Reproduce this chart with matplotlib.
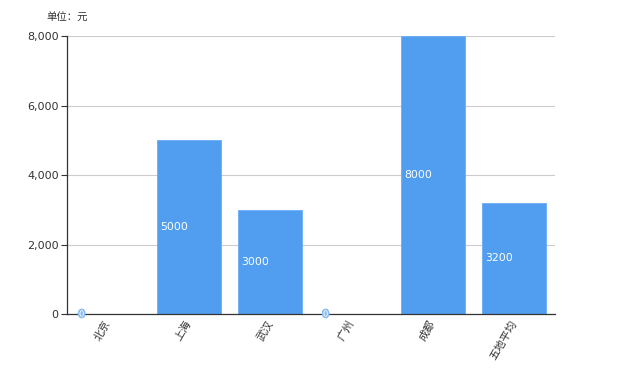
import matplotlib
matplotlib.use("Agg")
import matplotlib.pyplot as plt
import matplotlib.patheffects as pe

plt.rcParams['font.family'] = ['DejaVu Sans', 'Noto Sans CJK SC']

categories = ['北京', '上海', '武汉', '广州', '成都', '五地平均']
values = [0, 5000, 3000, 0, 8000, 3200]
yticks = [0, 2000, 4000, 6000, 8000]
unit_label = '单位：元'

bar_color = '#519ef0'
fig = plt.figure(figsize=(6.2, 3.75), dpi=100)
ax = fig.add_axes([67/620, 61/375, 488/620, 278/375])

width = 0.79
xs = list(range(len(categories)))
ax.bar(xs, values, width=width, color=bar_color, edgecolor='#6aaef5', linewidth=0.6, zorder=2)

for x, v in zip(xs, values):
    t = ax.annotate(str(v), xy=(x - width/2, v/2), xytext=(2.5, 0), textcoords='offset points',
                    ha='left', va='center', color='white', fontsize=7.8, zorder=5,
                    family=['DejaVu Sans'])
    if v == 0:
        t.set_fontsize(6)
        t.set_path_effects([pe.withStroke(linewidth=2.5, foreground='#8cbcf0')])

ax.set_xlim(-0.5, len(categories) - 0.5)
ax.set_ylim(0, 8000)
ax.set_yticks(yticks)
ax.set_yticklabels([f'{t:,}' for t in yticks])
ax.yaxis.grid(True, color='#cccccc', linewidth=0.8, zorder=0)
ax.set_axisbelow(True)

for s in ['top', 'right']:
    ax.spines[s].set_visible(False)
ax.spines['left'].set_color('#333333')
ax.spines['bottom'].set_color('#333333')
ax.spines['left'].set_linewidth(0.9)
ax.spines['bottom'].set_linewidth(0.9)

ax.tick_params(axis='y', length=4, color='#333333', labelsize=8, labelcolor='#333333', pad=2)
ax.tick_params(axis='x', length=0, pad=5)
ax.set_xticks(xs)
ax.set_xticklabels(categories, rotation=60, ha='right', va='center', rotation_mode='anchor',
                   fontsize=7.8, color='#333333', family=['Noto Sans CJK SC'])

fig.text(67/620, 1 - 18/375, unit_label, ha='center', va='center', fontsize=7.5,
         color='#333333', family=['Noto Sans CJK SC'])

fig.savefig('out.png', dpi=100, facecolor='white')
